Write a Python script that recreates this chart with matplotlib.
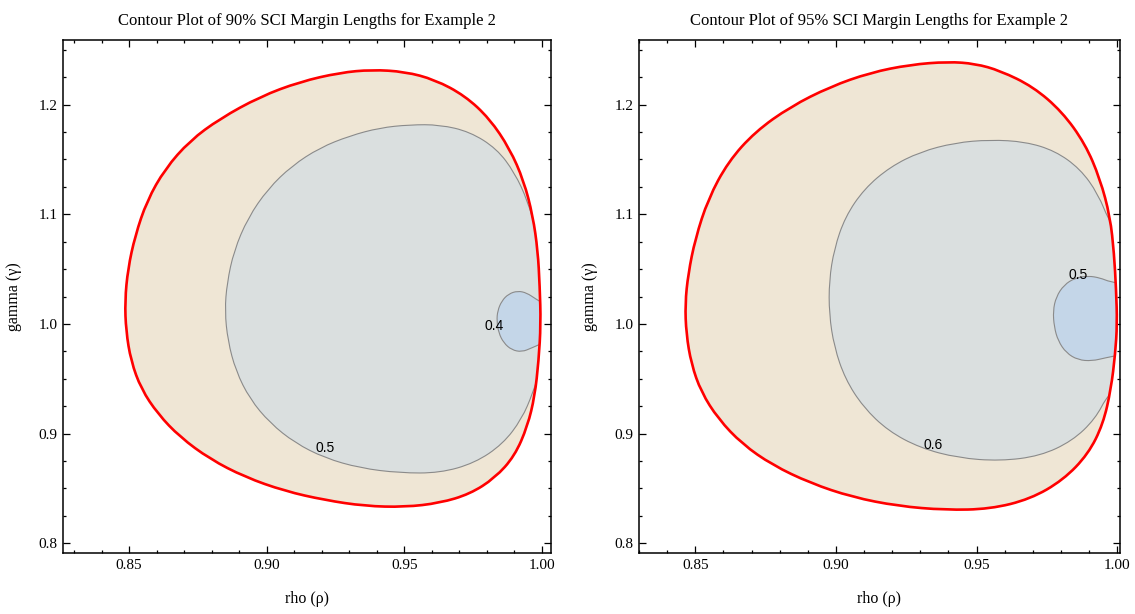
import matplotlib
matplotlib.use("Agg")
import matplotlib.pyplot as plt
from matplotlib.patches import PathPatch
from matplotlib.path import Path
from matplotlib.ticker import MultipleLocator, FixedLocator
import numpy as np

plt.rcParams['font.family'] = ['Liberation Serif', 'DejaVu Serif']

# --- 90% SCI margin lengths -------------------------------------------------
# outer boundary of the region (red curve)
rho_outer_90 = [0.9382, 0.9266, 0.9121, 0.8976, 0.8830, 0.8721, 0.8631, 0.8565,
                0.8522, 0.8496, 0.8485, 0.8489, 0.8507, 0.8544, 0.8605, 0.8685,
                0.8794, 0.8921, 0.9066, 0.9211, 0.9357, 0.9502, 0.9629, 0.9738,
                0.9829, 0.9901, 0.9948, 0.9974, 0.9988, 0.9996, 0.9992, 0.9985,
                0.9967, 0.9934, 0.9883, 0.9810, 0.9720, 0.9611, 0.9502]
gamma_outer_90 = [1.2319, 1.2292, 1.2209, 1.2073, 1.1872, 1.1671, 1.1415, 1.1123,
                  1.0803, 1.0502, 1.0210, 0.9936, 0.9662, 0.9407, 0.9178, 0.8968,
                  0.8767, 0.8603, 0.8475, 0.8393, 0.8338, 0.8329, 0.8366, 0.8448,
                  0.8594, 0.8795, 0.9069, 0.9343, 0.9662, 1.0000, 1.0347, 1.0666,
                  1.0986, 1.1306, 1.1598, 1.1872, 1.2082, 1.2228, 1.2301]
# level 0.5
rho_mid_90 = [1.0021, 0.9981, 0.9948, 0.9901, 0.9836, 0.9738, 0.9629, 0.9520,
              0.9411, 0.9302, 0.9193, 0.9092, 0.9005, 0.8932, 0.8881, 0.8856,
              0.8848, 0.8859, 0.8888, 0.8939, 0.9012, 0.9103, 0.9211, 0.9339,
              0.9484, 0.9629, 0.9756, 0.9858, 0.9927, 0.9967, 0.9992, 1.0021]
gamma_mid_90 = [1.0666, 1.0831, 1.1123, 1.1379, 1.1598, 1.1753, 1.1817, 1.1817,
                1.1789, 1.1716, 1.1607, 1.1443, 1.1233, 1.0968, 1.0666, 1.0374,
                1.0119, 0.9845, 0.9571, 0.9315, 0.9096, 0.8914, 0.8777, 0.8685,
                0.8640, 0.8640, 0.8731, 0.8904, 0.9133, 0.9370, 0.9571, 0.9662]
# level 0.4
rho_in_90 = [1.0021, 0.9977, 0.9945, 0.9912, 0.9879, 0.9854, 0.9839, 0.9836,
             0.9843, 0.9861, 0.9890, 0.9927, 0.9963, 1.0021]
gamma_in_90 = [1.0164, 1.0228, 1.0283, 1.0301, 1.0274, 1.0210, 1.0119, 1.0027,
               0.9918, 0.9827, 0.9763, 0.9744, 0.9781, 0.9845]
levels_90 = ["0.5", "0.4"]
label_rho_90 = [0.9211, 0.9825]
label_gamma_90 = [0.8868, 0.9985]

# --- 95% SCI margin lengths -------------------------------------------------
rho_outer_95 = [0.9399, 0.9264, 0.9122, 0.8980, 0.8838, 0.8713, 0.8617, 0.8546,
                0.8500, 0.8475, 0.8464, 0.8468, 0.8486, 0.8521, 0.8582, 0.8667,
                0.8774, 0.8909, 0.9058, 0.9221, 0.9389, 0.9548, 0.9691, 0.9808,
                0.9897, 0.9950, 0.9978, 0.9993, 1.0000, 0.9996, 0.9989, 0.9975,
                0.9939, 0.9886, 0.9804, 0.9701, 0.9584, 0.9495]
gamma_outer_95 = [1.2392, 1.2365, 1.2292, 1.2164, 1.1981, 1.1753, 1.1479, 1.1141,
                  1.0776, 1.0457, 1.0183, 0.9909, 0.9635, 0.9379, 0.9133, 0.8904,
                  0.8713, 0.8548, 0.8420, 0.8338, 0.8302, 0.8311, 0.8402, 0.8576,
                  0.8813, 0.9087, 0.9407, 0.9726, 1.0000, 1.0320, 1.0639, 1.0977,
                  1.1324, 1.1643, 1.1936, 1.2164, 1.2310, 1.2374]
# level 0.6
rho_mid_95 = [1.0028, 0.9975, 0.9932, 0.9868, 0.9779, 0.9673, 0.9548, 0.9424,
              0.9300, 0.9193, 0.9101, 0.9033, 0.8994, 0.8976, 0.8976, 0.8994,
              0.9033, 0.9097, 0.9186, 0.9300, 0.9435, 0.9584, 0.9726, 0.9840,
              0.9922, 0.9968, 1.0028]
gamma_mid_95 = [1.0776, 1.0913, 1.1187, 1.1415, 1.1579, 1.1662, 1.1680, 1.1653,
                1.1570, 1.1433, 1.1233, 1.0977, 1.0685, 1.0393, 1.0091, 0.9790,
                0.9498, 0.9242, 0.9023, 0.8868, 0.8777, 0.8749, 0.8795, 0.8932,
                0.9133, 0.9361, 0.9452]
# level 0.5
rho_in_95 = [1.0028, 0.9975, 0.9939, 0.9897, 0.9851, 0.9811, 0.9783, 0.9772,
             0.9776, 0.9790, 0.9819, 0.9861, 0.9911, 0.9957, 1.0028]
gamma_in_95 = [1.0365, 1.0383, 1.0420, 1.0438, 1.0420, 1.0356, 1.0247, 1.0119,
               0.9973, 0.9845, 0.9735, 0.9671, 0.9662, 0.9690, 0.9726]
levels_95 = ["0.6", "0.5"]
label_rho_95 = [0.9346, 0.9861]
label_gamma_95 = [0.8895, 1.0447]

x_ticks = [0.85, 0.90, 0.95, 1.00]
y_ticks = [0.8, 0.9, 1.0, 1.1, 1.2]

C_OUTER = '#efe6d5'
C_MID = '#dadfdf'
C_IN = '#c4d6e8'
C_LINE = '#8a8a8a'


def smooth_path(xs, ys):
    # closed quadratic-bezier path: the digitised points act as control points,
    # the midpoints between neighbours as the on-curve points
    pts = np.column_stack([xs, ys])
    nxt = np.roll(pts, -1, axis=0)
    mids = (pts + nxt) / 2
    verts = [mids[-1]]
    codes = [Path.MOVETO]
    for p, m in zip(pts, mids):
        verts += [p, m]
        codes += [Path.CURVE3, Path.CURVE3]
    return Path(np.array(verts), codes)


def draw_panel(ax, outer, mid, inner, labels, label_x, label_y, xlim, title):
    outer_path = smooth_path(*outer)
    region = PathPatch(outer_path, facecolor=C_OUTER, edgecolor='none', zorder=1)
    ax.add_patch(region)
    for pts, col in ((mid, C_MID), (inner, C_IN)):
        p = PathPatch(smooth_path(*pts), facecolor=col, edgecolor=C_LINE,
                      linewidth=0.8, zorder=2)
        ax.add_patch(p)
        p.set_clip_path(region)
    ax.add_patch(PathPatch(outer_path, facecolor='none', edgecolor='red',
                           linewidth=1.9, zorder=3))
    for txt, lx, ly in zip(labels, label_x, label_y):
        ax.text(lx, ly, txt, ha='center', va='center', fontsize=10,
                family=['Liberation Sans', 'DejaVu Sans'], zorder=4)

    ax.set_xlim(*xlim)
    ax.set_ylim(0.791, 1.259)
    ax.xaxis.set_major_locator(FixedLocator(x_ticks))
    ax.set_xticklabels([f'{v:.2f}' for v in x_ticks])
    ax.xaxis.set_minor_locator(MultipleLocator(0.01))
    ax.yaxis.set_major_locator(FixedLocator(y_ticks))
    ax.set_yticklabels([f'{v:.1f}' for v in y_ticks])
    ax.yaxis.set_minor_locator(MultipleLocator(0.025))
    ax.tick_params(which='both', direction='in', top=True, right=True,
                   width=0.9, labelsize=11)
    ax.tick_params(which='major', length=5, pad=4)
    ax.tick_params(which='minor', length=2.5)
    for s in ax.spines.values():
        s.set_linewidth(1.1)
    ax.set_title(title, fontsize=12, pad=11)
    ax.set_xlabel('rho (ρ)', fontsize=11.5, labelpad=14)
    ax.set_ylabel('gamma (γ)', fontsize=11.5, labelpad=12)


fig = plt.figure(figsize=(11.35, 6.14), dpi=100)
ax1 = fig.add_axes([63 / 1135, 61 / 614, 488 / 1135, 513 / 614])
ax2 = fig.add_axes([639 / 1135, 61 / 614, 481 / 1135, 513 / 614])

draw_panel(ax1, (rho_outer_90, gamma_outer_90), (rho_mid_90, gamma_mid_90),
           (rho_in_90, gamma_in_90), levels_90, label_rho_90, label_gamma_90,
           (0.826, 1.0033), 'Contour Plot of 90% SCI Margin Lengths for Example 2')
draw_panel(ax2, (rho_outer_95, gamma_outer_95), (rho_mid_95, gamma_mid_95),
           (rho_in_95, gamma_in_95), levels_95, label_rho_95, label_gamma_95,
           (0.830, 1.0010), 'Contour Plot of 95% SCI Margin Lengths for Example 2')

fig.savefig('out.png', dpi=100)
